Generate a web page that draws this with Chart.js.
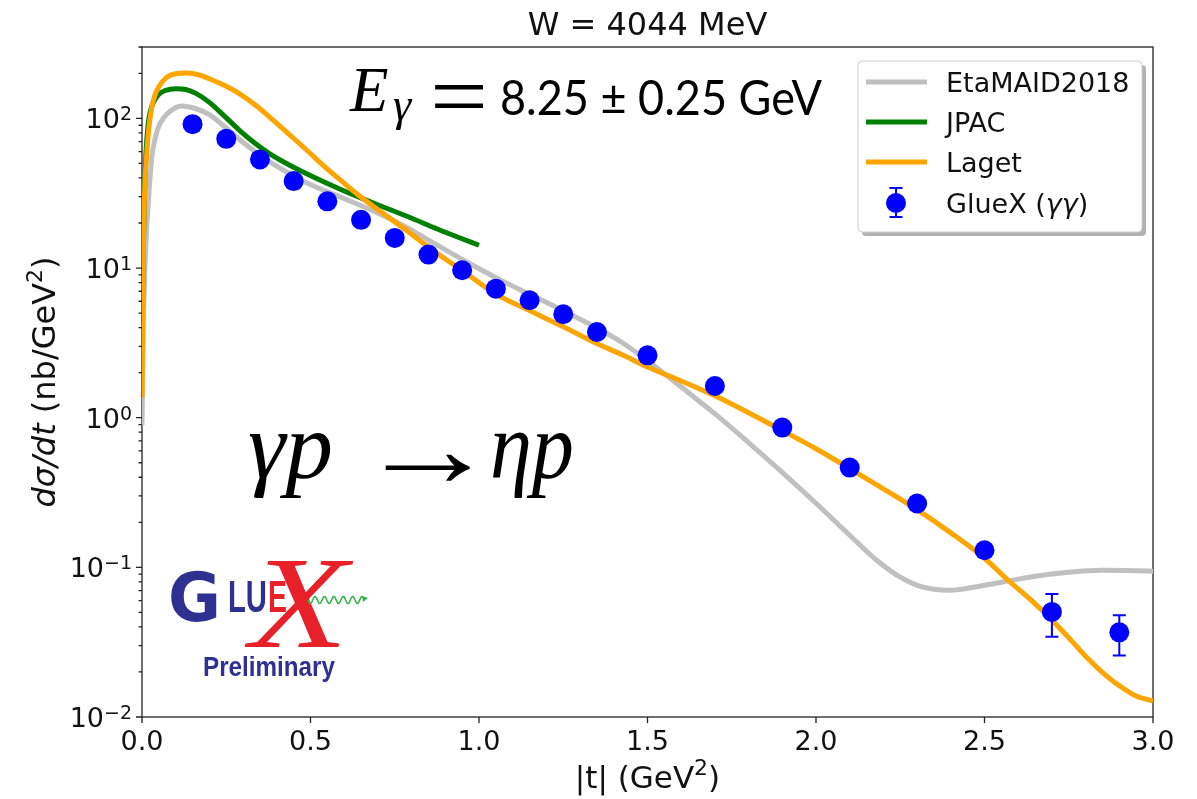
<!DOCTYPE html>
<html>
<head>
<meta charset="utf-8">
<title>W = 4044 MeV</title>
<script src="https://cdn.jsdelivr.net/npm/chart.js@4.4.1/dist/chart.umd.min.js"></script>
<style>
  html, body { margin: 0; padding: 0; background: #ffffff; }
  canvas { display: block; }
</style>
</head>
<body>
<canvas id="c" width="1197" height="799"></canvas>
<script>
// ---- dσ/dt (nb/GeV²) versus |t| (GeV²) ----

// EtaMAID2018 model curve
const etamaidT = [0, 0.004, 0.008, 0.013, 0.019, 0.029, 0.04, 0.053, 0.08, 0.118,
                  0.16, 0.2, 0.24, 0.29, 0.34, 0.39, 0.44, 0.49, 0.59, 0.69,
                  0.78, 0.87, 0.96, 1.06, 1.16, 1.26, 1.36, 1.43, 1.5, 1.56,
                  1.607, 1.705, 1.804, 1.903, 2.0, 2.1, 2.18, 2.25, 2.3, 2.35,
                  2.4, 2.45, 2.55, 2.65, 2.75, 2.85, 2.95, 3.0];
const etamaidY = [0.89, 4, 9, 17, 28, 55, 75, 92, 110, 121,
                  116, 106, 90, 72, 59, 49.5, 42.5, 37, 29.7, 23.9,
                  19.0, 14.5, 11.1, 8.4, 6.52, 5.06, 3.87, 3.12, 2.40, 1.89,
                  1.56, 1.04, 0.669, 0.425, 0.268, 0.164, 0.1115, 0.0859, 0.0759, 0.0714,
                  0.0703, 0.0725, 0.0795, 0.0872, 0.0927, 0.0956, 0.0949, 0.0942];

// JPAC model curve (|t| ≤ 1 GeV²)
const jpacT = [0, 0.003, 0.007, 0.012, 0.018, 0.025, 0.034, 0.05, 0.07, 0.1,
               0.13, 0.16, 0.2, 0.24, 0.29, 0.34, 0.39, 0.44, 0.49, 0.59,
               0.69, 0.79, 0.88, 0.94, 1.0];
const jpacY = [3, 10, 30, 60, 90, 112, 128, 145, 154, 158,
               156, 147, 128, 106, 83, 67, 56, 48.5, 42.5, 33.5,
               27, 22, 18.1, 16.0, 14.2];

// Laget model curve
const lagetT = [0, 0.002, 0.005, 0.009, 0.014, 0.02, 0.028, 0.038, 0.05, 0.073,
                0.1, 0.133, 0.17, 0.21, 0.25, 0.29, 0.34, 0.39, 0.44, 0.49,
                0.54, 0.59, 0.64, 0.69, 0.78, 0.87, 0.96, 1.05, 1.15, 1.25,
                1.35, 1.43, 1.5, 1.6, 1.7, 1.8, 1.9, 2.0, 2.1, 2.2,
                2.3, 2.4, 2.5, 2.57, 2.64, 2.7, 2.76, 2.8, 2.86, 2.9,
                2.95, 3.0];
const lagetY = [1.37, 5, 18, 38, 58, 85, 115, 142, 163, 188,
                199, 201, 195, 180, 164, 146, 121, 97, 77, 61,
                48, 38.5, 31, 25.5, 18.2, 12.8, 9.3, 6.7, 5.2, 4.05,
                3.13, 2.6, 2.18, 1.76, 1.40, 1.08, 0.82, 0.62, 0.457, 0.335,
                0.243, 0.17, 0.115, 0.082, 0.06, 0.0445, 0.032, 0.0255, 0.019, 0.0162,
                0.0138, 0.0128];

// GlueX (γγ) measurement
const gluexT = [0.15, 0.25, 0.35, 0.45, 0.55, 0.65, 0.75, 0.85, 0.95, 1.05,
                1.15, 1.25, 1.35, 1.5, 1.7, 1.9, 2.1, 2.3, 2.5, 2.7, 2.9];
const gluexY = [91.5, 73, 53.2, 38.1, 27.9, 21.0, 15.9, 12.3, 9.66, 7.28,
                6.09, 4.91, 3.74, 2.61, 1.63, 0.859, 0.464, 0.267, 0.130, 0.0504, 0.0368];
// uncertainties (only those larger than the marker are listed)
const gluexErr = [null, null, null, null, null, null, null, null, null, null,
                  null, null, null, null, null, null, null, null, null, 0.016, 0.011];

// axis ticks
const xTicks = [0, 0.5, 1.0, 1.5, 2.0, 2.5, 3.0];
const yDecades = [-2, -1, 0, 1, 2];
const yMin = 0.01, yMax = 300;

// legend entries
const seriesNames = ['EtaMAID2018', 'JPAC', 'Laget', 'GlueX'];

// ---------------------------------------------------------------
const SANS = '"DejaVu Sans", "Liberation Sans", sans-serif';
const SERIF = '"Liberation Serif", "DejaVu Serif", serif';

function xy(ts, ys) { return ts.map((t, i) => ({ x: t, y: ys[i] })); }

function runs(ctx, parts, x, y, align) {
  let total = 0;
  const ws = parts.map(p => { ctx.font = p[1]; const w = ctx.measureText(p[0]).width; total += w; return w; });
  let cx = align === 'center' ? x - total / 2 : align === 'right' ? x - total : x;
  ctx.textAlign = 'left';
  ctx.textBaseline = 'alphabetic';
  parts.forEach((p, i) => { ctx.font = p[1]; ctx.fillText(p[0], cx, y + (p[2] || 0)); cx += ws[i]; });
  return total;
}

// text squeezed/stretched horizontally to a given width
function fitText(ctx, s, x, y, font, color, width) {
  ctx.font = font;
  ctx.fillStyle = color;
  ctx.textAlign = 'left';
  ctx.textBaseline = 'alphabetic';
  const w = ctx.measureText(s).width;
  ctx.save();
  ctx.translate(x, y);
  ctx.scale(width ? width / w : 1, 1);
  ctx.fillText(s, 0, 0);
  ctx.restore();
}

function roundRect(ctx, x, y, w, h, r) {
  ctx.beginPath();
  ctx.moveTo(x + r, y);
  ctx.arcTo(x + w, y, x + w, y + h, r);
  ctx.arcTo(x + w, y + h, x, y + h, r);
  ctx.arcTo(x, y + h, x, y, r);
  ctx.arcTo(x, y, x + w, y, r);
  ctx.closePath();
}

const decor = {
  id: 'decor',
  beforeDatasetsDraw(chart) {
    const { ctx, chartArea: a, scales: { x, y } } = chart;
    ctx.save();
    ctx.strokeStyle = '#222';
    ctx.lineWidth = 1.3;
    ctx.strokeRect(a.left, a.top, a.right - a.left, a.bottom - a.top);
    ctx.beginPath();
    xTicks.forEach(v => {
      const px = x.getPixelForValue(v);
      ctx.moveTo(px, a.bottom); ctx.lineTo(px, a.bottom + 6);
    });
    yDecades.forEach(k => {
      for (let m = 1; m < 10; m++) {
        const v = m * Math.pow(10, k);
        if (v > yMax) break;
        const py = y.getPixelForValue(v);
        ctx.moveTo(a.left, py); ctx.lineTo(a.left - (m === 1 ? 6 : 3.5), py);
      }
    });
    ctx.stroke();
    ctx.restore();
  },
  afterDatasetsDraw(chart) {
    const { ctx, scales: { x, y } } = chart;
    ctx.save();
    ctx.strokeStyle = '#0000ff';
    ctx.lineWidth = 2;
    gluexT.forEach((t, i) => {
      const e = gluexErr[i];
      if (e == null) return;
      const px = x.getPixelForValue(t);
      const top = y.getPixelForValue(gluexY[i] + e);
      const bot = y.getPixelForValue(gluexY[i] - e);
      ctx.beginPath();
      ctx.moveTo(px, top); ctx.lineTo(px, bot);
      ctx.moveTo(px - 6.5, top); ctx.lineTo(px + 6.5, top);
      ctx.moveTo(px - 6.5, bot); ctx.lineTo(px + 6.5, bot);
      ctx.stroke();
    });
    ctx.restore();
  },
  afterDraw(chart) {
    const { ctx, chartArea: a, scales: { x, y } } = chart;
    const ds = chart.data.datasets;
    ctx.save();
    ctx.fillStyle = '#111';

    // tick labels
    xTicks.forEach(v => {
      ctx.font = '27px ' + SANS;
      ctx.textAlign = 'center';
      ctx.textBaseline = 'alphabetic';
      ctx.fillText(v.toFixed(1), x.getPixelForValue(v), 750);
    });
    yDecades.forEach(k => {
      const py = y.getPixelForValue(Math.pow(10, k));
      const exp = k < 0 ? '\u2212' + Math.abs(k) : String(k);
      runs(ctx, [['10', '27px ' + SANS, 0], [exp, '19px ' + SANS, -8]], 132, py + 10, 'right');
    });

    // title and axis titles
    ctx.font = '32px ' + SANS;
    ctx.textAlign = 'center';
    ctx.fillText('W = 4044 MeV', (a.left + a.right) / 2, 35);
    runs(ctx, [['|t| (GeV', '31px ' + SANS, 0], ['2', '22px ' + SANS, -13], [')', '31px ' + SANS, 0]],
         (a.left + a.right) / 2, 788, 'center');
    ctx.save();
    ctx.translate(55, (a.top + a.bottom) / 2);
    ctx.rotate(-Math.PI / 2);
    runs(ctx, [['d\u03c3/dt', 'italic 32px ' + SANS, 0], [' (nb/GeV', '32px ' + SANS, 0],
               ['2', '22px ' + SANS, -13], [')', '32px ' + SANS, 0]], 0, 0, 'center');
    ctx.restore();

    // legend
    const L = { x: 858, y: 61, w: 284, h: 171 };
    roundRect(ctx, L.x + 4, L.y + 4, L.w, L.h, 4);
    ctx.fillStyle = 'rgba(0,0,0,0.3)';
    ctx.fill();
    roundRect(ctx, L.x, L.y, L.w, L.h, 4);
    ctx.fillStyle = '#ffffff';
    ctx.fill();
    ctx.strokeStyle = '#cfcfcf';
    ctx.lineWidth = 1;
    ctx.stroke();
    const rowY = [82, 122, 162, 203];
    ctx.lineCap = 'butt';
    for (let i = 0; i < 3; i++) {
      ctx.strokeStyle = ds[i].borderColor;
      ctx.lineWidth = 5;
      ctx.beginPath();
      ctx.moveTo(866, rowY[i]); ctx.lineTo(927, rowY[i]);
      ctx.stroke();
    }
    // error-bar marker
    ctx.strokeStyle = '#0000ff';
    ctx.lineWidth = 2;
    ctx.beginPath();
    ctx.moveTo(896, rowY[3] - 15); ctx.lineTo(896, rowY[3] + 14);
    ctx.moveTo(889.5, rowY[3] - 15); ctx.lineTo(902.5, rowY[3] - 15);
    ctx.moveTo(889.5, rowY[3] + 14); ctx.lineTo(902.5, rowY[3] + 14);
    ctx.stroke();
    ctx.fillStyle = '#0000ff';
    ctx.beginPath();
    ctx.arc(896, rowY[3], 10, 0, Math.PI * 2);
    ctx.fill();
    ctx.fillStyle = '#111';
    for (let i = 0; i < 3; i++) runs(ctx, [[seriesNames[i], '27px ' + SANS, 0]], 946, rowY[i] + 10, 'left');
    runs(ctx, [[seriesNames[3] + ' (', '27px ' + SANS, 0], ['\u03b3\u03b3', 'italic 27px ' + SANS, 0],
               [')', '27px ' + SANS, 0]], 946, rowY[3] + 10, 'left');

    // photon energy
    fitText(ctx, 'E', 350, 111, 'italic 63px ' + SERIF, '#000', 0);
    fitText(ctx, '\u03b3', 393, 120, 'italic 46px ' + SERIF, '#000', 0);
    fitText(ctx, '=', 430, 127, '92px ' + SERIF, '#000', 58);
    fitText(ctx, '8.25 \u00b1 0.25 GeV', 500, 115, '48px Lato, "Open Sans", sans-serif', '#000', 322);

    // reaction
    fitText(ctx, '\u03b3p', 248, 478, 'italic 95px ' + SERIF, '#000', 0);
    fitText(ctx, '\u2192', 357, 486, '110px ' + SERIF, '#000', 142);
    fitText(ctx, '\u03b7p', 490, 478, 'italic 95px ' + SERIF, '#000', 84);

    // GlueX Preliminary logo
    const blue = '#2e3192', red = '#e8202a';
    fitText(ctx, 'X', 250, 647, 'italic 132px ' + SERIF, red, 98);
    fitText(ctx, 'G', 168, 621, 'bold 68px ' + SANS, blue, 53);
    fitText(ctx, 'LU', 228, 612, 'bold 44px "Liberation Sans", sans-serif', blue, 39);
    fitText(ctx, 'E', 268, 612, 'bold 44px "Liberation Sans", sans-serif', red, 19);
    ctx.strokeStyle = '#39b54a';
    ctx.lineWidth = 1.6;
    ctx.beginPath();
    for (let px = 308; px <= 364; px += 0.5) {
      const py = 600 + 3.5 * Math.sin((px - 308) / 9.4 * Math.PI * 2);
      if (px === 308) ctx.moveTo(px, py); else ctx.lineTo(px, py);
    }
    ctx.stroke();
    ctx.fillStyle = '#39b54a';
    ctx.beginPath();
    ctx.moveTo(368, 598); ctx.lineTo(362, 596); ctx.lineTo(363, 602); ctx.closePath();
    ctx.fill();
    fitText(ctx, 'Preliminary', 203, 676, 'bold 28px "Liberation Sans", sans-serif', blue, 132);

    ctx.restore();
  }
};

function build() {
  new Chart(document.getElementById('c'), {
    type: 'scatter',
    data: {
      datasets: [
        { label: seriesNames[0], data: xy(etamaidT, etamaidY), showLine: true, borderColor: '#c0c0c0',
          borderWidth: 5, pointRadius: 0, cubicInterpolationMode: 'monotone', order: 3 },
        { label: seriesNames[1], data: xy(jpacT, jpacY), showLine: true, borderColor: '#008000',
          borderWidth: 5, pointRadius: 0, cubicInterpolationMode: 'monotone', order: 2 },
        { label: seriesNames[2], data: xy(lagetT, lagetY), showLine: true, borderColor: '#ffa500',
          borderWidth: 5, pointRadius: 0, cubicInterpolationMode: 'monotone', order: 1 },
        { label: seriesNames[3], data: xy(gluexT, gluexY), showLine: false, backgroundColor: '#0000ff',
          borderWidth: 0, pointRadius: 10, order: 0 }
      ]
    },
    options: {
      responsive: false,
      animation: false,
      events: [],
      layout: { padding: { left: 0, right: 44, top: 47, bottom: 0 } },
      plugins: { legend: { display: false }, tooltip: { enabled: false }, title: { display: false } },
      scales: {
        x: {
          type: 'linear', min: 0, max: 3,
          grid: { display: false }, border: { display: false },
          ticks: { display: false },
          afterFit: s => { s.height = 82; }
        },
        y: {
          type: 'logarithmic', min: yMin, max: yMax,
          grid: { display: false }, border: { display: false },
          ticks: { display: false },
          afterFit: s => { s.width = 142; }
        }
      }
    },
    plugins: [decor]
  });
}

const fontList = ['27px "DejaVu Sans"', 'italic 27px "DejaVu Sans"', 'bold 68px "DejaVu Sans"',
                  'italic 95px "Liberation Serif"', '100px "Liberation Serif"', '48px Lato',
                  'bold 28px "Liberation Sans"'];
Promise.all(fontList.map(f => document.fonts.load(f).catch(() => null))).then(build, build);
</script>
</body>
</html>
